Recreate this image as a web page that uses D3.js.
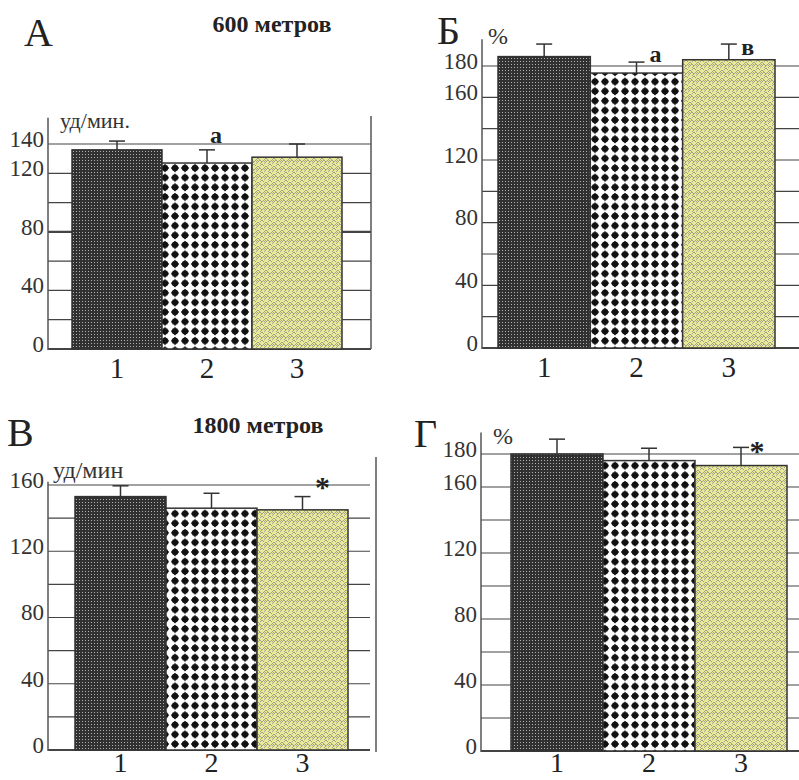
<!DOCTYPE html>
<html>
<head>
<meta charset="utf-8">
<script src="https://cdn.jsdelivr.net/npm/d3@7"></script>
<style>
  html, body { margin: 0; padding: 0; background: #fff; }
  svg { display: block; }
  svg text { font-family: "Liberation Serif", "Times New Roman", "DejaVu Serif", serif !important; }
</style>
</head>
<body>
<svg id="chart" width="799" height="780" font-family="Liberation Serif, Times New Roman, DejaVu Serif, serif"></svg>
<script>
// ---- data ----
const categories = ["1", "2", "3"];

const valuesA = [136, 127, 131];       // 600 м, уд/мин
const errorsA = [6, 9, 9];
const ticksA  = [0, 40, 80, 120, 140];

const valuesB = [186, 175.5, 184];     // 600 м, %
const errorsB = [8, 7, 10];
const ticksB  = [0, 40, 80, 120, 160, 180];

const valuesV = [153, 146, 145];       // 1800 м, уд/мин
const errorsV = [6.5, 9, 8];
const ticksV  = [0, 40, 80, 120, 160];

const valuesG = [180, 176, 173];       // 1800 м, %
const errorsG = [9, 7.5, 11];
const ticksG  = [0, 40, 80, 120, 160, 180];

const panelLetters = ["А", "Б", "В", "Г"];
const titles = ["600 метров", "1800 метров"];
const units = ["уд/мин.", "%", "уд/мин", "%"];
const marksA = [{cat: "2", text: "a"}];
const marksB = [{cat: "2", text: "а"}, {cat: "3", text: "в"}];
const marksV = [{cat: "3", text: "*"}];
const marksG = [{cat: "3", text: "*"}];

// ---- layout ----
const svg = d3.select("#chart");
const defs = svg.append("defs");

// pattern 1: dark with light dots
const p1 = defs.append("pattern").attr("id", "pat1").attr("patternUnits", "userSpaceOnUse")
  .attr("width", 3).attr("height", 3);
p1.append("rect").attr("width", 3).attr("height", 3).attr("fill", "#313131");
p1.append("rect").attr("x", 1).attr("y", 1).attr("width", 1).attr("height", 1).attr("fill", "#b0b0b0");

// pattern 2: black diamonds on white
const p2 = defs.append("pattern").attr("id", "pat2").attr("patternUnits", "userSpaceOnUse")
  .attr("width", 10).attr("height", 9.6);
p2.append("rect").attr("width", 10).attr("height", 9.6).attr("fill", "#fff");
p2.append("path").attr("d", "M5,0.6 L9.2,4.8 L5,9 L0.8,4.8 Z").attr("fill", "#111");
p2.append("circle").attr("cx", 5).attr("cy", 4.8).attr("r", 3.2).attr("fill", "#111");

// pattern 3: yellow with grey zigzag weave
const p3 = defs.append("pattern").attr("id", "pat3").attr("patternUnits", "userSpaceOnUse")
  .attr("width", 8).attr("height", 8);
p3.append("rect").attr("width", 8).attr("height", 8).attr("fill", "#eaea96");
p3.append("path").attr("d", "M0,2 L2,0 M0,4 L4,0 L6,2 M4,4 L8,0 M2,6 L4,8 M4,6 L6,4 L8,6 M0,8 L2,6")
  .attr("fill", "none").attr("stroke", "#a2a292").attr("stroke-width", 1);

const fills = ["url(#pat1)", "url(#pat2)", "url(#pat3)"];

const panels = [
  {values: valuesA, errors: errorsA, ticks: ticksA, marks: marksA,
   axisX: 48, gridEnd: 371, y0: 349, yTop: 144, yMax: 140, axisTopVal: 158,
   barRange: [72, 342], rightLine: {x: 371, y1: 116, y2: 349},
   letter: {x: 24, y: 46}, unit: {x: 60, y: 128, size: 22},
   title: {x: 272, y: 32}, thickVal: 80, xPad: 8, xSize: 29,
   markOff: [{dx: 9, dy: -7}]},
  {values: valuesB, errors: errorsB, ticks: ticksB, marks: marksB,
   axisX: 482, gridEnd: 799, y0: 348, yTop: 66, yMax: 180, axisTopVal: 197,
   barRange: [498, 775], rightLine: null,
   letter: {x: 437, y: 44}, unit: {x: 488, y: 44, size: 24},
   title: null, xPad: 8, xSize: 29,
   markOff: [{dx: 19, dy: 0}, {dx: 19, dy: 11}]},
  {values: valuesV, errors: errorsV, ticks: ticksV, marks: marksV,
   axisX: 48, gridEnd: 370, y0: 750, yTop: 485, yMax: 160, axisTopVal: 162,
   barRange: [75, 348], rightLine: {x: 376, y1: 457, y2: 752},
   letter: {x: 7, y: 446}, unit: {x: 53, y: 478, size: 24},
   title: {x: 258, y: 433}, xPad: 2, xSize: 28,
   markOff: [{dx: 20, dy: 0}]},
  {values: valuesG, errors: errorsG, ticks: ticksG, marks: marksG,
   axisX: 481, gridEnd: 799, y0: 751, yTop: 454, yMax: 180, axisTopVal: 193,
   barRange: [511, 787], rightLine: null,
   letter: {x: 414, y: 447}, unit: {x: 493, y: 444, size: 24},
   title: null, xPad: 1, xSize: 28,
   markOff: [{dx: 16, dy: 14}]}
];

panels.forEach((p, i) => {
  const g = svg.append("g");
  const y = d3.scaleLinear().domain([0, p.yMax]).range([p.y0, p.yTop]);
  const x = d3.scaleBand().domain(categories).range(p.barRange).padding(0);

  // gridlines every 20
  const gridVals = d3.range(0, p.yMax + 1, 20);
  g.selectAll(".grid").data(gridVals).enter().append("line")
    .attr("x1", p.axisX).attr("x2", p.gridEnd)
    .attr("y1", d => y(d)).attr("y2", d => y(d))
    .attr("stroke", "#444")
    .attr("stroke-width", d => (d === 0 ? 2 : (d === p.thickVal ? 2.2 : 1.2)));

  // left axis line
  g.append("line").attr("x1", p.axisX).attr("x2", p.axisX)
    .attr("y1", y(p.axisTopVal)).attr("y2", y(0) + 1)
    .attr("stroke", "#555").attr("stroke-width", 1.5);

  if (p.rightLine) {
    g.append("line").attr("x1", p.rightLine.x).attr("x2", p.rightLine.x)
      .attr("y1", p.rightLine.y1).attr("y2", p.rightLine.y2)
      .attr("stroke", "#555").attr("stroke-width", 1.5);
  }

  // bars
  g.selectAll(".bar").data(p.values).enter().append("rect")
    .attr("x", (d, j) => x(categories[j]))
    .attr("width", x.bandwidth())
    .attr("y", d => y(d))
    .attr("height", d => y(0) - y(d))
    .attr("fill", (d, j) => fills[j])
    .attr("stroke", "#333").attr("stroke-width", 1.5);

  // error bars (upper only)
  p.values.forEach((v, j) => {
    const cx = x(categories[j]) + x.bandwidth() / 2;
    const top = y(v + p.errors[j]);
    g.append("line").attr("x1", cx).attr("x2", cx).attr("y1", y(v)).attr("y2", top)
      .attr("stroke", "#333").attr("stroke-width", 1.5);
    g.append("line").attr("x1", cx - 8).attr("x2", cx + 8).attr("y1", top).attr("y2", top)
      .attr("stroke", "#333").attr("stroke-width", 1.5);
  });

  // y tick labels
  const ya = g.append("g").attr("transform", `translate(${p.axisX},0)`)
    .call(d3.axisLeft(y).tickValues(p.ticks).tickSize(0).tickPadding(4).tickFormat(d3.format("d")));
  ya.attr("font-family", null).attr("font-size", null);
  ya.select(".domain").remove();
  ya.selectAll("text").attr("dy", "0.1em").style("font-size", "23px").attr("fill", "#333");

  // x labels
  const xa = g.append("g").attr("transform", `translate(0,${p.y0})`)
    .call(d3.axisBottom(x).tickSize(0).tickPadding(p.xPad));
  xa.attr("font-family", null).attr("font-size", null);
  xa.select(".domain").remove();
  xa.selectAll("text").style("font-size", p.xSize + "px").attr("fill", "#222");

  // significance marks
  p.marks.forEach((m, k) => {
    const j = categories.indexOf(m.cat);
    const cx = x(m.cat) + x.bandwidth() / 2;
    const top = y(p.values[j] + p.errors[j]);
    const off = p.markOff[k];
    g.append("text").attr("x", cx + off.dx).attr("y", top + off.dy)
      .attr("text-anchor", "middle")
      .style("font-size", m.text === "*" ? "30px" : "24px")
      .style("font-weight", "bold").attr("fill", "#222")
      .text(m.text);
  });

  // panel letter
  g.append("text").attr("x", p.letter.x).attr("y", p.letter.y)
    .style("font-size", "40px").attr("fill", "#222").text(panelLetters[i]);

  // unit
  g.append("text").attr("x", p.unit.x).attr("y", p.unit.y)
    .style("font-size", p.unit.size + "px").attr("fill", "#333").text(units[i]);

  // title
  if (p.title) {
    g.append("text").attr("x", p.title.x).attr("y", p.title.y)
      .attr("text-anchor", "middle").style("font-size", "24px").style("font-weight", "bold")
      .attr("fill", "#222").text(titles[i === 0 ? 0 : 1]);
  }
});
</script>
</body>
</html>
